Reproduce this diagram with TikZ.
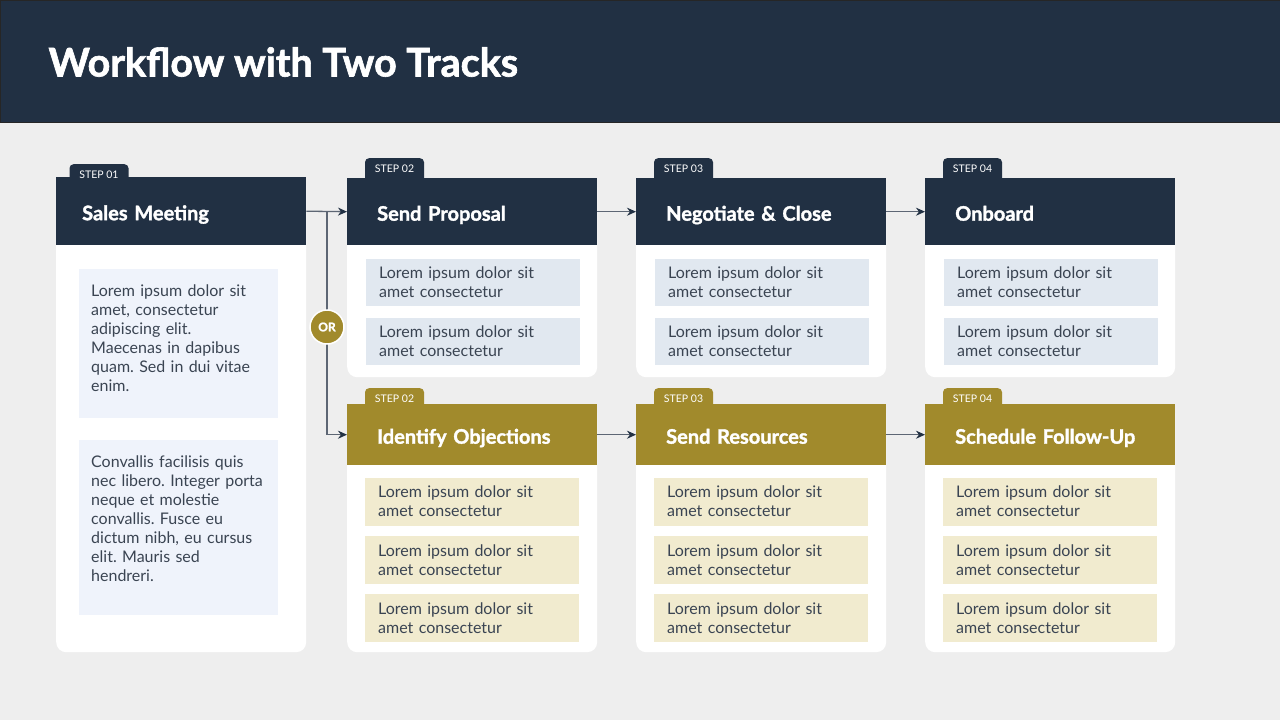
\documentclass[tikz,border=0pt]{standalone}
\usepackage{fontspec}
\setmainfont{Lato}
\newfontfamily\heavy{Lato}[FakeBold=1.6]
\usepackage{xcolor}
\usetikzlibrary{arrows.meta}
\usetikzlibrary{positioning}
\definecolor{navy}{HTML}{213043}
\definecolor{gold}{HTML}{A18A2C}
\definecolor{paper}{HTML}{EEEEEE}
\definecolor{ink}{HTML}{3A4452}
\definecolor{wire}{HTML}{5D6674}
\definecolor{paleblue}{HTML}{EFF3FB}
\definecolor{greyblue}{HTML}{E1E8F0}
\definecolor{palegold}{HTML}{F1EBCF}
\tikzset{
    tnode/.style = {align=left, inner sep=0pt},
    card/.style = {rectangle, fill=white, rounded corners=10pt, minimum width=250pt, anchor=north west, inner sep=0pt},
    head/.style = {tnode, rectangle, anchor=north west, text width=190pt, inner xsep=30pt, text height=18pt, text depth=0pt, text=white, font=\fontsize{20}{22}\selectfont\heavy\bfseries},
    head_navy/.style = {head, fill=navy, minimum height=67pt},
    head_gold/.style = {head, fill=gold, minimum height=61pt},
    tab/.style = {anchor=north, minimum width=59pt, inner sep=0pt, text height=14pt, text depth=12pt, rounded corners=4pt, text=white, font=\fontsize{10.5}{12}\selectfont},
    tab_navy/.style = {tab, fill=navy},
    tab_gold/.style = {tab, fill=gold},
    box/.style = {tnode, anchor=north west, inner xsep=13pt, text width=188pt, minimum height=48pt, text=ink, font=\fontsize{16}{19}\selectfont},
    box_blue/.style = {box, fill=greyblue, minimum height=47pt},
    box_gold/.style = {box, fill=palegold},
    box_pale/.style = {box, fill=paleblue, inner xsep=12pt, text width=175pt},
    link/.style = {draw=wire, line width=1.3pt, -{Stealth[length=9pt, width=8pt, color=navy]}}
}
\newcommand{\lorem}{Lorem ipsum dolor sit\\amet consectetur}
\frenchspacing

\begin{document}
\begin{tikzpicture}[x=1pt, y=-1pt]
    \useasboundingbox (0,0) rectangle (1280,720);
    \fill[paper] (0,0) rectangle (1280,720);

    % title bar
    \node[rectangle, fill=navy, draw=black!85, line width=0.8pt, anchor=north west, minimum width=1280pt, minimum height=122pt] (bar) at (0,0) {};
    \node[anchor=west, text=white, font=\fontsize{39.5}{42}\selectfont\heavy\bfseries] (title) at (45,62) {Workflow with Two Tracks};

    % step 01
    \node[card, minimum height=475pt] (card1) at (56,177) {};
    \node[head_navy, minimum height=68pt, inner xsep=26pt, text width=198pt] (head1) at (56,177) {Sales Meeting};
    \node[tab_navy] (tab1) at (99,164) {STEP 01};
    \node[box_pale, minimum height=149pt, below right=23pt and 23pt of head1.south west] (note1)
        {Lorem ipsum dolor sit\\amet, consectetur\\adipiscing elit.\\Maecenas in dapibus\\quam. Sed in dui vitae\\enim.\\[-10pt]\mbox{}};
    \node[box_pale, minimum height=175pt, below=22pt of note1] (note2)
        {Convallis facilisis quis\\nec libero. Integer porta\\neque et molestie\\convallis. Fusce eu\\dictum nibh, eu cursus\\elit. Mauris sed\\hendreri.\\[-2pt]\mbox{}};

    % top track
    \foreach \i/\x/\name in {2/347/Send Proposal, 3/636/{Negotiate \& Close}, 4/925/Onboard}{
        \node[card, minimum height=199pt] (top_card\i) at (\x,178) {};
        \node[head_navy] (top_head\i) at (\x,178) {\name};
        \node[tab_navy] (top_tab\i) at (\x+47.5,158) {STEP 0\i};
        \node[box_blue, below right=13pt and 19pt of top_head\i.south west] (top_a\i) {\lorem};
        \node[box_blue, below=12pt of top_a\i] (top_b\i) {\lorem};
    }

    % bottom track
    \foreach \i/\x/\name in {2/347/Identify Objections, 3/636/Send Resources, 4/925/Schedule Follow-Up}{
        \node[card, minimum height=248pt] (bot_card\i) at (\x,404) {};
        \node[head_gold] (bot_head\i) at (\x,404) {\name};
        \node[tab_gold] (bot_tab\i) at (\x+47.5,388) {STEP 0\i};
        \node[box_gold, below right=12pt and 18pt of bot_head\i.south west] (bot_a\i) {\lorem};
        \node[box_gold, below=10pt of bot_a\i] (bot_b\i) {\lorem};
        \node[box_gold, below=10pt of bot_b\i] (bot_c\i) {\lorem};
    }

    % connectors
    \coordinate (split) at (327,211);
    \draw[link] (head1.east) -- (top_head2.west);
    \draw[link] (split) |- (bot_head2.west);
    \draw[link] (top_head2.east) -- (top_head3.west);
    \draw[link] (top_head3.east) -- (top_head4.west);
    \draw[link] (bot_head2.east) -- (bot_head3.west);
    \draw[link] (bot_head3.east) -- (bot_head4.west);
    \node[circle, fill=gold, draw=white, line width=1.5pt, minimum size=34pt, inner sep=0pt, text=white, font=\fontsize{12}{14}\selectfont\heavy\bfseries] (or) at (327,327) {OR};
\end{tikzpicture}
\end{document}
